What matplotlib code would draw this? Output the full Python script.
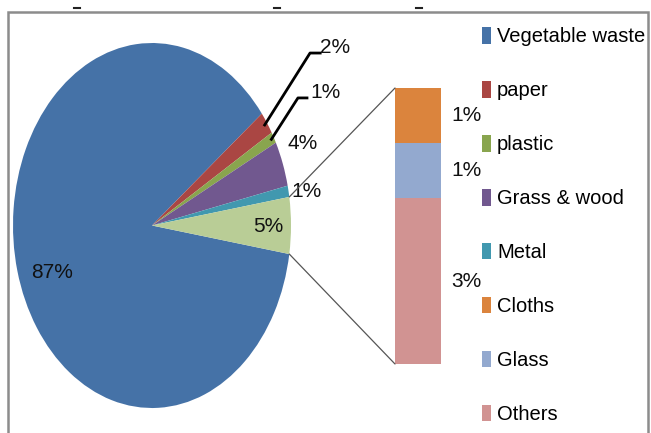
import numpy as np
import matplotlib
matplotlib.use("Agg")
import matplotlib.pyplot as plt
from matplotlib.patches import Rectangle, ConnectionPatch
from matplotlib.lines import Line2D

plt.rcParams['font.family'] = ['Liberation Sans', 'DejaVu Sans']

# pie slices (last one is split out into the bar)
pie_labels = ['Vegetable waste', 'paper', 'plastic', 'Grass & wood', 'Metal', 'Other']
pie_values = [87, 2, 1, 4, 1, 5]
pie_colors = ['#4572A7', '#AA4643', '#89A54E', '#71588F', '#4198AF', '#B9CD96']

# breakdown of the "Other" slice
bar_labels = ['Cloths', 'Glass', 'Others']
bar_values = [1, 1, 3]
bar_colors = ['#DB843D', '#93A9CF', '#D19392']

W, H = 651, 433
fig = plt.figure(figsize=(W / 100, H / 100), dpi=100)


def px_axes(x0, y0, x1, y1):
    # axes placed by pixel box, y measured from the top
    return fig.add_axes([x0 / W, 1 - y1 / H, (x1 - x0) / W, (y1 - y0) / H])


# outer chart frame (runs off the bottom)
fig.add_artist(Rectangle((8 / W, -0.1), (648 - 8) / W, 1 - 12 / H + 0.1,
                         transform=fig.transFigure, fill=False,
                         edgecolor='#8c8c8c', lw=1.8))
for xm in [77, 277, 419]:
    fig.add_artist(Line2D([(xm - 3) / W, (xm + 3) / W], [1 - 8 / H, 1 - 8 / H],
                          transform=fig.transFigure, color='#222222', lw=1.5))

# pie
ax = px_axes(13, 43, 291, 408)
wedges, _ = ax.pie(pie_values, colors=pie_colors, startangle=-9,
                   counterclock=False, wedgeprops=dict(linewidth=0))
ax.set_aspect('auto')
ax.set_xlim(-1, 1)
ax.set_ylim(-1, 1)
ax.axis('off')

lab_xy = [(-0.72, -0.255), (1.317, 0.978), (1.245, 0.73),
          (1.086, 0.452), (1.115, 0.189), (0.835, -0.003)]
leaders = {1: [(1.137, 0.945), (1.21, 0.945)],
           2: [(1.05, 0.699), (1.115, 0.699)]}
for i, (w, v) in enumerate(zip(wedges, pie_values)):
    ax.text(lab_xy[i][0], lab_xy[i][1], f"{v}%", ha='center', va='center',
            fontsize=15, color='#111111', clip_on=False)
    if i in leaders:
        mid = np.radians((w.theta1 + w.theta2) / 2)
        pts = [(0.98 * np.cos(mid), 0.98 * np.sin(mid))] + leaders[i]
        ax.plot([p[0] for p in pts], [p[1] for p in pts], color='black',
                lw=2, clip_on=False)

# bar of the split slice
ax2 = px_axes(395, 88, 441, 364)
total = sum(bar_values)
bottoms = total - np.cumsum(bar_values)
bars = []
for lab, v, b, c in zip(bar_labels, bar_values, bottoms, bar_colors):
    bars.append(ax2.bar(0.5, v, bottom=b, width=1, color=c, label=lab)[0])
    ax2.text(1.55, b + v / 2, f"{v}%", ha='center', va='center',
             fontsize=15, color='#111111', clip_on=False)
ax2.set_xlim(0, 1)
ax2.set_ylim(0, total)
ax2.axis('off')

# lines joining the slice to the bar
other = wedges[-1]
for th, yb in [(other.theta2, total), (other.theta1, 0)]:
    t = np.radians(th)
    con = ConnectionPatch(xyA=(np.cos(t), np.sin(t)), coordsA=ax.transData,
                          xyB=(0, yb), coordsB=ax2.transData,
                          color='#555555', lw=0.9)
    fig.add_artist(con)

handles = list(wedges[:5]) + bars
labels = pie_labels[:5] + bar_labels
fig.legend(handles, labels, loc='upper left',
           bbox_to_anchor=(482 / W, 1 - 27 / H), frameon=False, fontsize=14.5,
           handlelength=0.45, handleheight=0.9, handletextpad=0.3,
           labelspacing=1.72, borderpad=0, borderaxespad=0)

fig.savefig('out.png', dpi=100)
